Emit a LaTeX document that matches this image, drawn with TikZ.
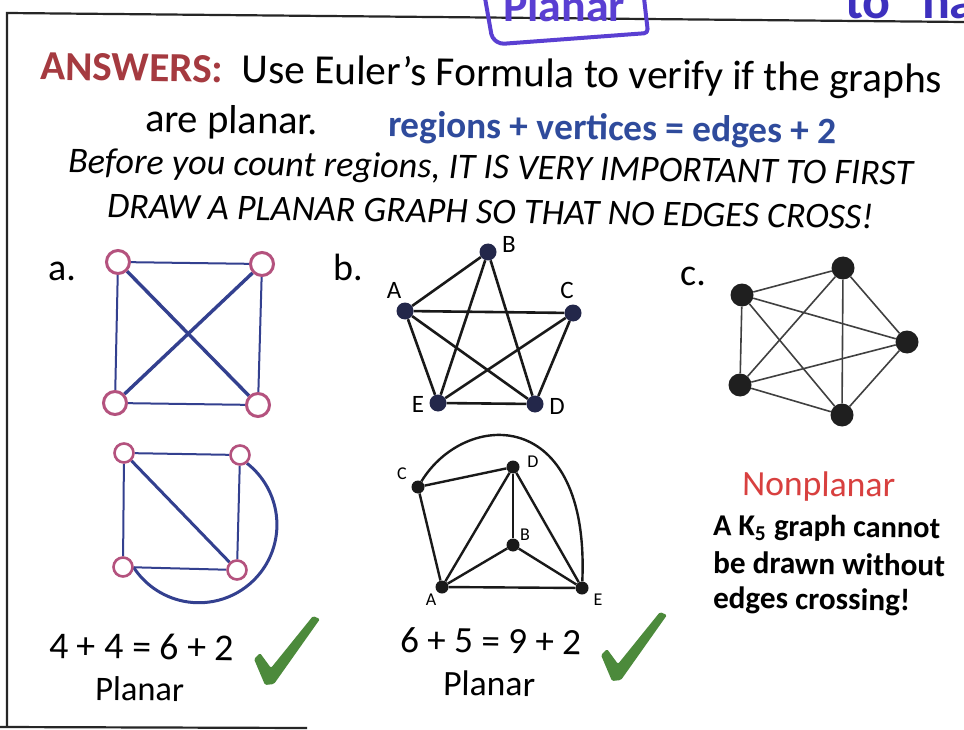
\documentclass[tikz,border=0pt]{standalone}
\usepackage{fontspec}
\setmainfont{Carlito}
\usetikzlibrary{backgrounds}
\definecolor{ansred}{HTML}{A53A40}
\definecolor{formblue}{HTML}{2F4B9C}
\definecolor{nonred}{HTML}{D8403F}
\definecolor{ringpink}{HTML}{B4527E}
\definecolor{edgeblue}{HTML}{33408F}
\definecolor{navynode}{HTML}{23274A}
\definecolor{chkgreen}{HTML}{4C8A3B}
\definecolor{penpurple}{HTML}{5A3FD2}
\definecolor{penblue}{HTML}{3D30BE}
\begin{document}
\begin{tikzpicture}[x=1pt,y=1pt,
 tx/.style={inner sep=0pt, outer sep=0pt, anchor=base west, rotate=-0.8},
 avert/.style={circle, draw=ringpink, line width=3pt, fill=white, minimum size=23pt, inner sep=0pt},
 avsmall/.style={avert, minimum size=19pt, line width=2.6pt},
 athin/.style={draw=edgeblue, line width=2pt},
 athick/.style={draw=edgeblue, line width=3.4pt},
 bvert/.style={circle, fill=navynode, minimum size=17pt, inner sep=0pt},
 bedge/.style={draw=black!90, line width=2.6pt},
 cvert/.style={circle, fill=black!88, minimum size=23pt, inner sep=0pt},
 cedge/.style={draw=black!75, line width=1.6pt},
 dvert/.style={circle, fill=black!90, minimum size=13pt, inner sep=0pt},
 dedge/.style={draw=black!90, line width=2.4pt},
 blab/.style={inner sep=0pt, font=\fontsize{25}{25}\selectfont},
 dlab/.style={inner sep=0pt, font=\fontsize{18}{18}\selectfont},
 glab/.style={inner sep=0pt, anchor=base west, font=\fontsize{38}{38}\selectfont},
 check/.style={fill=chkgreen, rounded corners=1.5pt},
]
\useasboundingbox (0,0) rectangle (964,-730);

% frame
\draw[line width=2.2pt, black!85] (964,-22) -- (7,-13) -- (7,-727);
\draw[line width=2.2pt, black!85] (0,-727) -- (307,-728);

% handwritten marks at top
\node[tx, rotate=0.8, text=penpurple] (hw1) at (503,-22) {\resizebox{122pt}{!}{\bfseries Planar}};
\draw[penpurple, line width=4pt, line join=round, rounded corners=4pt] (485,2) -- (492,-38) -- (500,-44) -- (648,-33) -- (644,2);
\node[tx, rotate=0.8, text=penblue] (hw2) at (845,-19) {\fontsize{52}{52}\selectfont\bfseries to};
\node[tx, rotate=0.8, text=penblue] (hw3) at (922,-19) {\fontsize{52}{52}\selectfont\bfseries ha};

% title lines
\node[tx] (t1) at (40,-80) {\resizebox{902pt}{!}{\textbf{\color{ansred}ANSWERS:}\hspace{0.45em}Use Euler’s Formula to verify if the graphs}};
\node[tx] (t2a) at (145,-132) {\resizebox{173pt}{!}{are planar.}};
\node[tx, text=formblue] (t2b) at (388,-137) {\resizebox{449pt}{!}{\textbf{regions + vertices = edges + 2}}};
\node[tx] (t3) at (68,-173) {\resizebox{845pt}{!}{\itshape Before you count regions, IT IS VERY IMPORTANT TO FIRST}};
\node[tx] (t4) at (107,-218) {\resizebox{766pt}{!}{\itshape DRAW A PLANAR GRAPH SO THAT NO EDGES CROSS!}};

% part labels
\node[glab] (la) at (48,-280) {a.};
\node[glab] (lb) at (333,-280) {b.};
\node[glab] (lc) at (680,-285) {c.};

% graph a
\node[avert] (a1) at (118,-262) {};
\node[avert] (a2) at (262,-264) {};
\node[avert] (a3) at (115,-403) {};
\node[avert] (a4) at (258,-405) {};

% graph a, planar drawing
\node[avsmall] (p1) at (124,-453) {};
\node[avsmall] (p2) at (240,-455) {};
\node[avsmall] (p3) at (123,-567) {};
\node[avsmall] (p4) at (237,-570) {};

% graph b
\node[bvert] (bB) at (488,-252) {};
\node[bvert] (bA) at (405,-311) {};
\node[bvert] (bC) at (573,-313) {};
\node[bvert] (bE) at (438,-403) {};
\node[bvert] (bD) at (535,-404) {};
\node[blab] (lB) at (509,-244) {B};
\node[blab] (lA) at (394,-290) {A};
\node[blab] (lC) at (567,-290) {C};
\node[blab] (lE) at (418,-404) {E};
\node[blab] (lD) at (557,-406) {D};

% graph b, planar drawing
\node[dvert] (dC) at (418,-487) {};
\node[dvert] (dD) at (513,-467) {};
\node[dvert] (dB) at (513,-545) {};
\node[dvert] (dA) at (442,-587) {};
\node[dvert] (dE) at (582,-588) {};
\node[dlab] (mC) at (402,-474) {C};
\node[dlab] (mD) at (533,-462) {D};
\node[dlab] (mB) at (525,-535) {B};
\node[dlab] (mA) at (431,-600) {A};
\node[dlab] (mE) at (598,-600) {E};

% graph c
\node[cvert] (c1) at (843,-268) {};
\node[cvert] (c2) at (742,-295) {};
\node[cvert] (c3) at (907,-342) {};
\node[cvert] (c4) at (740,-385) {};
\node[cvert] (c5) at (842,-415) {};

% right text
\node[tx, text=nonred] (nt) at (742,-495) {\resizebox{153pt}{!}{Nonplanar}};
\node[tx] (r1) at (713,-535) {\resizebox{227pt}{!}{\textbf{A K\textsubscript{5} graph cannot}}};
\node[tx] (r2) at (713,-573) {\resizebox{232pt}{!}{\textbf{be drawn without}}};
\node[tx] (r3) at (713,-608) {\resizebox{197pt}{!}{\textbf{edges crossing!}}};

% bottom text
\node[tx] (e1) at (49,-658) {\resizebox{185pt}{!}{4 + 4 = 6 + 2}};
\node[tx] (pl1) at (95,-700) {\resizebox{89pt}{!}{Planar}};
\node[tx] (e2) at (400,-652) {\resizebox{181pt}{!}{6 + 5 = 9 + 2}};
\node[tx] (pl2) at (443,-695) {\resizebox{92pt}{!}{Planar}};

% check marks
\fill[check] (254,-659) -- (260,-653) -- (271,-668) -- (313,-616) -- (320,-619) -- (274,-684) -- (265,-685) -- cycle;
\begin{scope}[shift={(347,4)}]
\fill[check] (254,-659) -- (260,-653) -- (271,-668) -- (313,-616) -- (320,-619) -- (274,-684) -- (265,-685) -- cycle;
\end{scope}

\begin{scope}[on background layer]
\fill[white] (0,0) rectangle (964,-730);
% graph a edges
\draw[athin] (a1) -- (a2);
\draw[athin] (a2) -- (a4);
\draw[athin] (a4) -- (a3);
\draw[athin] (a3) -- (a1);
\draw[athick] (a1) -- (a4);
\draw[athick] (a2) -- (a3);
% planar a edges
\draw[athin] (p1) -- (p2);
\draw[athin] (p2) -- (p4);
\draw[athin] (p4) -- (p3);
\draw[athin] (p3) -- (p1);
\draw[athick, line width=3pt] (p1) -- (p4);
\draw[edgeblue, line width=3pt] (p2.-50) arc[start angle=52, end angle=-147, radius=78];
% graph b edges
\draw[bedge] (bA) -- (bB);
\draw[bedge] (bA) -- (bC);
\draw[bedge] (bA) -- (bE);
\draw[bedge] (bA) -- (bD);
\draw[bedge] (bB) -- (bE);
\draw[bedge] (bB) -- (bD);
\draw[bedge] (bC) -- (bE);
\draw[bedge] (bC) -- (bD);
\draw[bedge] (bE) -- (bD);
% planar b edges
\draw[dedge] (dC) -- (dD);
\draw[dedge] (dC) -- (dA);
\draw[dedge] (dA) -- (dD);
\draw[dedge] (dA) -- (dB);
\draw[dedge] (dA) -- (dE);
\draw[dedge] (dD) -- (dB);
\draw[dedge] (dD) -- (dE);
\draw[dedge] (dB) -- (dE);
\draw[dedge] (dC) .. controls (465,-410) and (590,-405) .. (dE);
% graph c edges
\foreach \u/\v in {c1/c2,c1/c3,c1/c4,c1/c5,c2/c3,c2/c4,c2/c5,c3/c4,c3/c5,c4/c5}
  \draw[cedge] (\u) -- (\v);
\end{scope}
\end{tikzpicture}
\end{document}
